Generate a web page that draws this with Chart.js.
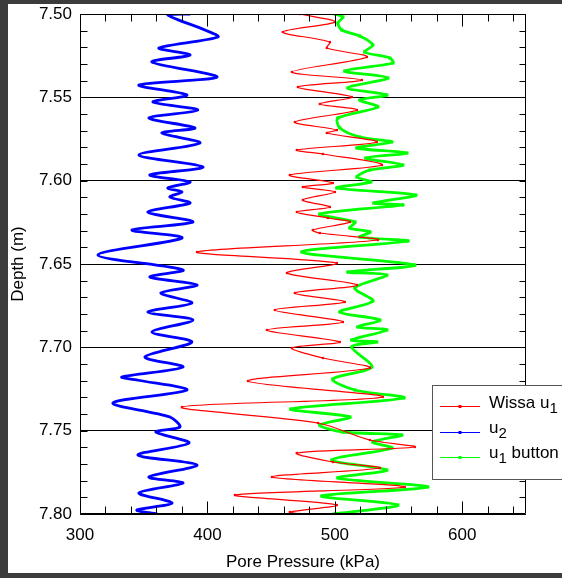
<!DOCTYPE html>
<html><head><meta charset="utf-8">
<script src="https://cdn.jsdelivr.net/npm/chart.js@4"></script>
<style>
html,body{margin:0;padding:0;background:#3c3c3c;overflow:hidden;}
canvas{display:block;position:absolute;left:0;top:0;}
</style></head><body>
<canvas id="c" width="562" height="578"></canvas>
<script>
// ---- data ----
const xTickValues = [300, 400, 500, 600];
const yTickValues = [7.50, 7.55, 7.60, 7.65, 7.70, 7.75, 7.80];
const seriesLabels = ['Wissa u₁', 'u₂', 'u₁ button'];

const wissaDepth = [7.500,7.5048,7.5108,7.5168,7.5204,7.5258,7.5348,7.5396,7.5438,7.5498,7.5540,7.5576,7.5648,7.5696,7.5714,7.5768,7.5816,7.5840,7.5906,7.5966,7.6014,7.6038,7.6068,7.6116,7.6158,7.6188,7.6224,7.6248,7.6296,7.6314,7.6356,7.6428,7.6494,7.6554,7.6626,7.6674,7.6728,7.6776,7.6848,7.6896,7.6968,7.7004,7.7064,7.7124,7.7202,7.7298,7.7358,7.7454,7.7556,7.7598,7.7634,7.7688,7.7724,7.7778,7.7838,7.7886,7.7946,7.7988,7.800];
const wissaPressure = [472.5,500.0,459.2,496.1,493.7,525.1,466.3,521.2,471.0,513.3,488.2,517.3,468.6,501.6,493.7,532.9,470.2,490.6,536.9,464.7,498.4,474.9,500.0,474.9,496.1,470.2,494.5,511.8,482.7,488.2,533.7,391.8,501.6,462.4,517.3,468.6,507.8,452.9,506.3,446.7,503.9,466.3,490.6,527.5,431.8,537.6,380.0,486.7,527.5,562.7,470.2,498.4,535.3,450.6,554.9,421.6,501.6,464.7,472.5];

const u2Depth = [7.5000,7.5006,7.5096,7.5138,7.5204,7.5246,7.5288,7.5378,7.5426,7.5486,7.5528,7.5576,7.5624,7.5684,7.5714,7.5774,7.5846,7.5918,7.5966,7.6008,7.6044,7.6068,7.6098,7.6134,7.6188,7.6248,7.6296,7.6344,7.6446,7.6536,7.6578,7.6626,7.6674,7.6734,7.6788,7.6836,7.6908,7.6968,7.7058,7.7118,7.7178,7.7196,7.7256,7.7334,7.7418,7.7478,7.7508,7.7574,7.7646,7.7706,7.7778,7.7814,7.7874,7.7934,7.7976,7.8000];
const u2Pressure = [386.3,369.0,398.0,408.2,362.0,386.3,356.5,407.5,346.3,383.9,357.3,392.5,354.1,390.2,364.3,394.1,346.3,396.5,354.9,386.3,369.0,380.0,370.6,386.3,353.3,388.6,340.8,380.0,314.1,380.8,354.9,391.8,363.5,387.8,353.3,388.6,356.5,387.8,351.0,380.8,332.9,344.7,383.9,325.9,370.6,378.4,359.6,385.5,345.5,391.8,354.1,380.8,346.3,372.2,344.7,360.4];

const buttonDepth = [7.500,7.5018,7.5054,7.5096,7.5132,7.5186,7.5228,7.5264,7.5294,7.5342,7.5384,7.5444,7.5486,7.5516,7.5558,7.5624,7.5684,7.5738,7.5768,7.5804,7.5834,7.5864,7.5906,7.5936,7.5978,7.6008,7.6044,7.6086,7.6134,7.6146,7.6200,7.6248,7.6284,7.6308,7.6338,7.6362,7.6428,7.6506,7.6548,7.6566,7.6644,7.6722,7.6788,7.6836,7.6878,7.6896,7.6956,7.6968,7.6998,7.7118,7.7190,7.7256,7.7304,7.7370,7.7418,7.7466,7.7508,7.7526,7.7568,7.7604,7.7676,7.7736,7.7784,7.7838,7.7892,7.7946,7.8000];
const buttonPressure = [500.0,506.3,502.4,505.5,519.6,529.8,523.5,543.1,545.5,507.8,541.6,510.2,540.8,519.6,533.7,502.4,503.9,519.6,544.7,517.3,556.5,524.3,553.3,527.5,517.3,528.2,501.6,563.5,530.6,553.3,488.2,515.7,511.8,527.5,519.6,557.3,474.1,562.7,510.2,540.8,515.7,529.8,503.9,535.3,518.0,540.8,513.3,532.9,513.3,529.0,498.4,515.7,554.1,465.5,511.8,488.2,506.3,552.5,529.8,544.7,497.6,540.8,502.4,572.9,489.8,549.4,499.2];

// ---- build ----
const FONT = '"Liberation Sans", Arial, sans-serif';
const pts = (p, d) => p.map((v, i) => ({x: v, y: d[i]}));
const colors = ['#ff0000', '#0000ff', '#00ff00'];

const framePlugin = {
  id: 'frame',
  beforeDraw(ch) {
    const c = ch.ctx;
    c.save();
    c.fillStyle = '#3c3c3c';
    c.fillRect(0, 0, ch.width, ch.height);
    c.fillStyle = '#ffffff';
    c.fillRect(8, 4, ch.width - 8, 569);
    c.restore();
  },
  afterDatasetsDraw(ch) {
    const {ctx, chartArea: a, scales: {x, y}} = ch;
    ctx.save();
    ctx.strokeStyle = '#000';
    ctx.lineWidth = 1;
    const L = Math.round(a.left) + 0.5, R = Math.round(a.right) - 0.5;
    const T = Math.round(a.top) + 0.5, B = Math.round(a.bottom) - 0.5;
    ctx.beginPath();
    ctx.rect(L, T, R - L, B - T);
    for (let v = 300; v <= 640; v += 20) {
      const px = Math.round(x.getPixelForValue(v)) + 0.5;
      const len = (v % 100 === 0) ? 12 : 7;
      ctx.moveTo(px, B); ctx.lineTo(px, B - len);
      ctx.moveTo(px, T); ctx.lineTo(px, T + len);
    }
    for (let i = 0; i <= 30; i++) {
      const py = Math.round(y.getPixelForValue(7.5 + i * 0.01)) + 0.5;
      ctx.moveTo(L, py); ctx.lineTo(L + 7, py);
      ctx.moveTo(R, py); ctx.lineTo(R - 6, py);
    }
    ctx.stroke();
    ctx.restore();
  },
  afterDraw(ch) {
    const ctx = ch.ctx;
    ctx.save();
    ctx.fillStyle = '#fff';
    ctx.fillRect(432, 385, 140, 94);
    ctx.strokeStyle = '#555';
    ctx.lineWidth = 1;
    ctx.strokeRect(432.5, 385.5, 140, 94);
    const subs = '₀₁₂₃₄₅₆₇₈₉';
    ch.data.datasets.forEach((ds, i) => {
      const ly = Math.round(406 + i * 25.5) + 0.5;
      ctx.strokeStyle = ds.borderColor;
      ctx.lineWidth = 1.2;
      ctx.beginPath(); ctx.moveTo(440, ly); ctx.lineTo(480, ly); ctx.stroke();
      ctx.fillStyle = ds.borderColor;
      ctx.fillRect(458.5, ly - 1.5, 3, 3);
      let cx = 489;
      const base = 408 + i * 25;
      ctx.fillStyle = '#000';
      ctx.textBaseline = 'alphabetic';
      ctx.textAlign = 'left';
      for (const chr of ds.label) {
        const k = subs.indexOf(chr);
        if (k >= 0) {
          ctx.font = '15px ' + FONT;
          ctx.fillText(String(k), cx, base + 5);
          cx += ctx.measureText(String(k)).width;
        } else {
          ctx.font = '17px ' + FONT;
          ctx.fillText(chr, cx, base);
          cx += ctx.measureText(chr).width;
        }
      }
    });
    ctx.restore();
  }
};

new Chart(document.getElementById('c'), {
  type: 'scatter',
  data: {
    datasets: [
      {label: seriesLabels[0], data: pts(wissaPressure, wissaDepth), showLine: true, tension: 0.3,
       borderColor: colors[0], backgroundColor: colors[0], borderWidth: 1.2,
       pointRadius: 1.6, pointStyle: 'rect', pointBorderWidth: 0},
      {label: seriesLabels[1], data: pts(u2Pressure, u2Depth), showLine: true, tension: 0.3,
       borderColor: colors[1], backgroundColor: colors[1], borderWidth: 2.8,
       pointRadius: 1.6, pointStyle: 'rect', pointBorderWidth: 0},
      {label: seriesLabels[2], data: pts(buttonPressure, buttonDepth), showLine: true, tension: 0.3,
       borderColor: colors[2], backgroundColor: colors[2], borderWidth: 2.8,
       pointRadius: 2.2, pointStyle: 'rect', pointBorderWidth: 0}
    ]
  },
  options: {
    responsive: false,
    animation: false,
    events: [],
    layout: {padding: {top: 14, right: 36, left: 0, bottom: 0}},
    plugins: {legend: {display: false}, tooltip: {enabled: false}},
    scales: {
      x: {
        type: 'linear', position: 'bottom', min: 300, max: 650,
        afterBuildTicks: s => { s.ticks = xTickValues.map(v => ({value: v})); },
        afterFit: s => { s.height = 64; s.paddingLeft = 0; s.paddingRight = 0; },
        grid: {display: false, drawTicks: false},
        border: {display: false},
        ticks: {color: '#000', font: {family: FONT, size: 17}, padding: 11, maxRotation: 0},
        title: {display: true, text: 'Pore Pressure (kPa)', color: '#000',
                font: {family: FONT, size: 17}, padding: {top: 0, bottom: 5}}
      },
      y: {
        type: 'linear', position: 'left', reverse: true, min: 7.5, max: 7.8,
        afterBuildTicks: s => { s.ticks = yTickValues.map(v => ({value: v})); },
        afterFit: s => { s.width = 80; s.paddingTop = 0; s.paddingBottom = 0; },
        grid: {display: true, drawTicks: false, color: '#000', lineWidth: 1},
        border: {display: false},
        ticks: {color: '#000', font: {family: FONT, size: 17}, padding: 8,
                callback: v => Number(v).toFixed(2)},
        title: {display: true, text: 'Depth (m)', color: '#000',
                font: {family: FONT, size: 17}, padding: {top: 8, bottom: 0}}
      }
    }
  },
  plugins: [framePlugin]
});
</script>
</body></html>
